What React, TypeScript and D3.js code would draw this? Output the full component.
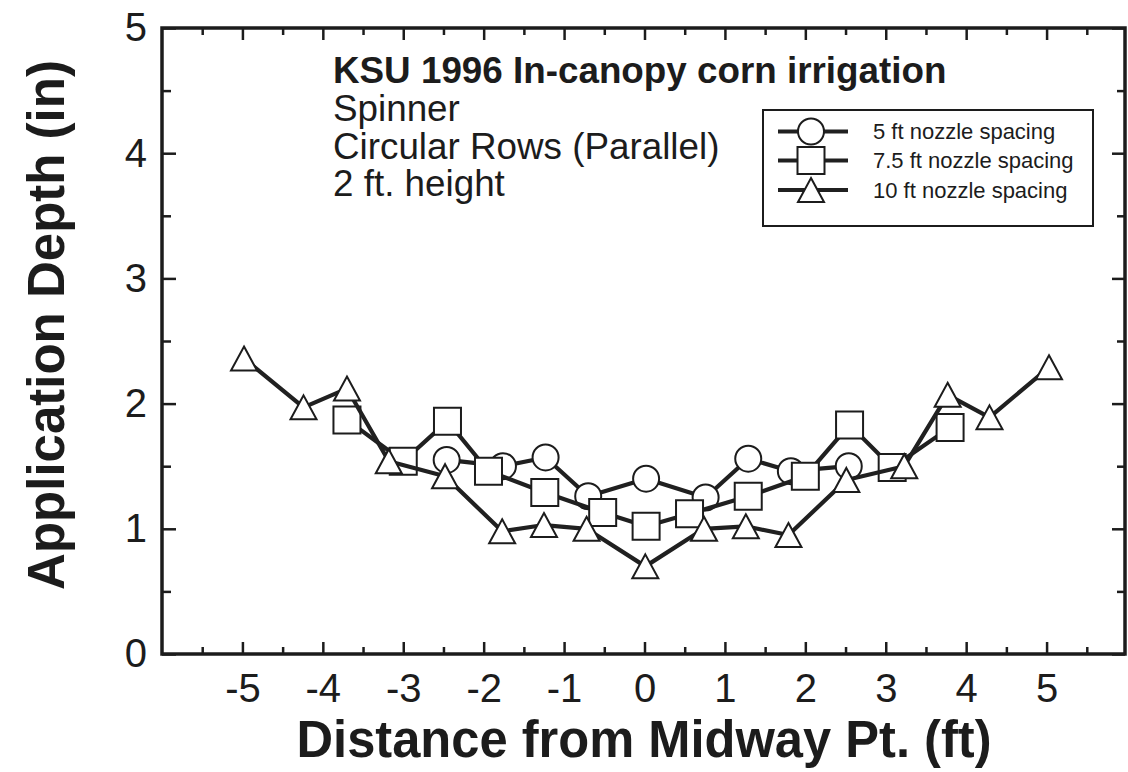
import React, { useEffect, useRef } from "react";
import * as d3 from "d3";

// 5 ft nozzle spacing (circles)
const circleX = [-2.46, -1.76, -1.23, -0.7, 0.02, 0.76, 1.29, 1.82, 2.54];
const circleY = [1.55, 1.5, 1.57, 1.26, 1.4, 1.25, 1.56, 1.46, 1.5];

// 7.5 ft nozzle spacing (squares)
const squareX = [-3.7, -3.0, -2.45, -1.94, -1.24, -0.52, 0.02, 0.56, 1.29, 2.0, 2.55, 3.08, 3.8];
const squareY = [1.87, 1.54, 1.86, 1.46, 1.29, 1.13, 1.02, 1.12, 1.26, 1.42, 1.83, 1.49, 1.81];

// 10 ft nozzle spacing (triangles)
const triX = [-4.98, -4.24, -3.7, -3.18, -2.48, -1.77, -1.25, -0.72, 0.01, 0.74, 1.26, 1.79, 2.51, 3.23, 3.77, 4.29, 5.03];
const triY = [2.36, 1.97, 2.12, 1.54, 1.42, 0.98, 1.03, 1.0, 0.7, 1.0, 1.02, 0.95, 1.39, 1.5, 2.07, 1.89, 2.29];

const xMajor = [-5, -4, -3, -2, -1, 0, 1, 2, 3, 4, 5];
const xMinor = [-5.5, -4.5, -3.5, -2.5, -1.5, -0.5, 0.5, 1.5, 2.5, 3.5, 4.5, 5.5];
const yMajor = [0, 1, 2, 3, 4, 5];
const yMinor = [0.5, 1.5, 2.5, 3.5, 4.5];

const seriesNames = ["5 ft nozzle spacing", "7.5 ft nozzle spacing", "10 ft nozzle spacing"];
const titleLines = ["Spinner", "Circular Rows (Parallel)", "2 ft. height"];
const chartTitle = "KSU 1996 In-canopy corn irrigation";
const xTitle = "Distance from Midway Pt. (ft)";
const yTitle = "Application Depth (in)";

const FONT = "'Liberation Sans', Arial, Helvetica, sans-serif";
const INK = "#1c1c1c";

export default function App() {
  const ref = useRef<SVGSVGElement>(null);

  useEffect(() => {
    const svg = d3.select(ref.current);
    svg.selectAll("*").remove();

    const L = 162, R = 1127, T = 28, B = 654;
    const x = d3.scaleLinear().domain([-6, 6]).range([L, R]);
    const y = d3.scaleLinear().domain([0, 5]).range([B, T]);

    svg.append("rect").attr("width", 1128).attr("height", 772).attr("fill", "#ffffff");

    const styleAxis = (g: any, fs: number) => {
      g.select(".domain").remove();
      g.selectAll("line").attr("stroke", INK).attr("stroke-width", 2.5);
      g.selectAll("text").attr("fill", INK).style("font-family", FONT).style("font-size", fs + "px");
    };

    // bottom axis
    const gb = svg.append("g").attr("transform", `translate(0,${B})`);
    gb.call(d3.axisBottom(x).tickValues(xMajor).tickSize(-12).tickPadding(20).tickFormat((d: any) => String(d)));
    styleAxis(gb, 40);
    const gbm = svg.append("g").attr("transform", `translate(0,${B})`);
    gbm.call(d3.axisBottom(x).tickValues(xMinor).tickSize(-7).tickFormat(() => ""));
    styleAxis(gbm, 10);

    // top axis
    const gt = svg.append("g").attr("transform", `translate(0,${T})`);
    gt.call(d3.axisTop(x).tickValues(xMajor).tickSize(-12).tickFormat(() => ""));
    styleAxis(gt, 10);
    const gtm = svg.append("g").attr("transform", `translate(0,${T})`);
    gtm.call(d3.axisTop(x).tickValues(xMinor).tickSize(-7).tickFormat(() => ""));
    styleAxis(gtm, 10);

    // left axis
    const gl = svg.append("g").attr("transform", `translate(${L},0)`);
    gl.call(d3.axisLeft(y).tickValues(yMajor).tickSize(-14).tickPadding(15).tickFormat((d: any) => String(d)));
    styleAxis(gl, 40);
    const glm = svg.append("g").attr("transform", `translate(${L},0)`);
    glm.call(d3.axisLeft(y).tickValues(yMinor).tickSize(-9).tickFormat(() => ""));
    styleAxis(glm, 10);

    // right axis
    const gr = svg.append("g").attr("transform", `translate(${R - 2},0)`);
    gr.call(d3.axisRight(y).tickValues(yMajor).tickSize(-13).tickFormat(() => ""));
    styleAxis(gr, 10);
    const grm = svg.append("g").attr("transform", `translate(${R - 2},0)`);
    grm.call(d3.axisRight(y).tickValues(yMinor).tickSize(-8).tickFormat(() => ""));
    styleAxis(grm, 10);

    // frame
    svg.append("rect")
      .attr("x", L).attr("y", T).attr("width", R - L - 2).attr("height", B - T)
      .attr("fill", "none").attr("stroke", INK).attr("stroke-width", 3.5);

    const line = d3.line<[number, number]>().x((d) => x(d[0])).y((d) => y(d[1]));
    const zipPts = (xs: number[], ys: number[]) => xs.map((v, i) => [v, ys[i]] as [number, number]);

    const circlePath = (cx: number, cy: number) => {
      const p = d3.path();
      p.moveTo(cx + 13, cy);
      p.arc(cx, cy, 13, 0, Math.PI * 2);
      return p.toString();
    };
    const squarePath = (cx: number, cy: number) => {
      const h = 13.5;
      return `M${cx - h},${cy - h}H${cx + h}V${cy + h}H${cx - h}Z`;
    };
    const triPath = (cx: number, cy: number) =>
      `M${cx},${cy - 12}L${cx + 13},${cy + 12}L${cx - 13},${cy + 12}Z`;

    const series = [
      { pts: zipPts(circleX, circleY), shape: circlePath },
      { pts: zipPts(squareX, squareY), shape: squarePath },
      { pts: zipPts(triX, triY), shape: triPath },
    ];

    series.forEach((s) => {
      svg.append("path").attr("d", line(s.pts) as string)
        .attr("fill", "none").attr("stroke", "#202020").attr("stroke-width", 4.2)
        .attr("stroke-linejoin", "round");
      svg.append("g").selectAll("path").data(s.pts).join("path")
        .attr("d", (d) => s.shape(x(d[0]), y(d[1])))
        .attr("fill", "#ffffff").attr("stroke", INK).attr("stroke-width", 2);
    });

    // legend
    const lg = svg.append("g");
    lg.append("rect").attr("x", 763).attr("y", 110).attr("width", 330).attr("height", 116)
      .attr("fill", "#ffffff").attr("stroke", INK).attr("stroke-width", 2);
    const rowY = [131.5, 160.5, 190];
    series.forEach((s, i) => {
      lg.append("line").attr("x1", 778).attr("x2", 848).attr("y1", rowY[i]).attr("y2", rowY[i])
        .attr("stroke", "#202020").attr("stroke-width", 4.2);
      lg.append("path").attr("d", s.shape(811, rowY[i]))
        .attr("fill", "#ffffff").attr("stroke", INK).attr("stroke-width", 2);
      lg.append("text").attr("x", 873).attr("y", rowY[i] + 7.5).text(seriesNames[i])
        .attr("fill", INK).style("font-family", FONT).style("font-size", "22px");
    });

    // titles
    svg.append("text").attr("x", 333).attr("y", 83).text(chartTitle)
      .attr("fill", INK).style("font-family", FONT).style("font-size", "36.8px").style("font-weight", "bold");
    const sub = [121, 159, 196];
    titleLines.forEach((t, i) => {
      svg.append("text").attr("x", 333).attr("y", sub[i]).text(t)
        .attr("fill", INK).style("font-family", FONT).style("font-size", "36.8px");
    });

    svg.append("text").attr("x", 644).attr("y", 757).attr("text-anchor", "middle").text(xTitle)
      .attr("textLength", 695).attr("lengthAdjust", "spacingAndGlyphs")
      .attr("fill", INK).style("font-family", FONT).style("font-size", "51px").style("font-weight", "bold");
    svg.append("text").attr("transform", "translate(64,325) rotate(-90)").attr("text-anchor", "middle").text(yTitle)
      .attr("fill", INK).style("font-family", FONT).style("font-size", "51px").style("font-weight", "bold");
  }, []);

  return (
    <svg
      ref={ref}
      width={1128}
      height={772}
      style={{ position: "absolute", left: 0, top: 0, display: "block" }}
    />
  );
}
